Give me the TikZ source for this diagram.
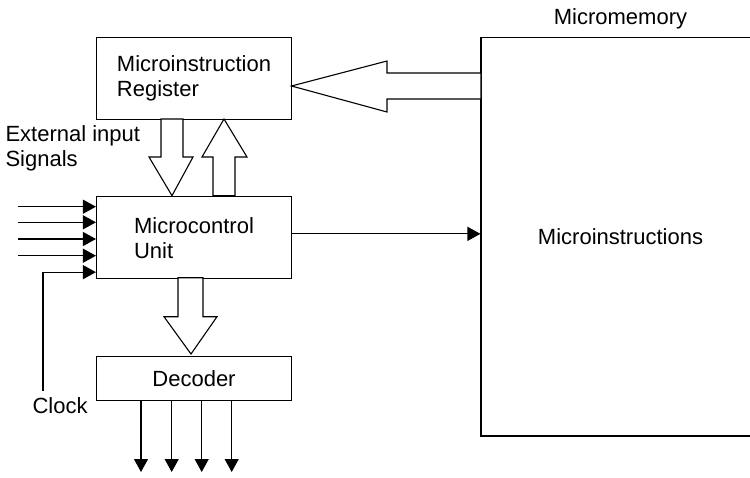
\documentclass[tikz,border=0pt]{standalone}
\usepackage{fontspec}
\setmainfont{Liberation Sans}
\usetikzlibrary{arrows.meta, positioning}

\begin{document}
\begin{tikzpicture}[
						x=1pt, y=-1pt,
						line width=1.1pt,
						every node/.style = {font=\fontsize{22}{25}\selectfont},
						block/.style = {draw, rectangle, minimum width=195pt, align=left},
						hollow/.style = {draw, fill=white, line join=miter},
						sig/.style = {-{Triangle[length=13pt, width=14pt]}}
					]
\useasboundingbox (0,0) rectangle (750,477);

\node[block, minimum height=81.3pt] (reg) at (194,78.4) {Microinstruction\\Register};
\node[block, minimum height=82pt] (mcu) [below=76.7pt of reg] {Microcontrol\\Unit};
\node[block, minimum height=44pt] (dec) [below=76.3pt of mcu] {Decoder};
\node[draw, rectangle, minimum width=279pt, minimum height=398.3pt] (mem) at (620.5,236.85) {Microinstructions};
\node[anchor=base, inner sep=0pt] (memlabel) at ([yshift=12.7pt]mem.north) {Micromemory};

\node[anchor=base west, inner sep=0pt, align=left] (ext) at (5,166.7) {External input\\Signals};
\node[anchor=base west, inner sep=0pt] (clock) at (32,413.3) {Clock};

% hollow arrows
\draw[hollow] (481,73) -- (387,73) -- (387,61) -- (291.5,86) -- (387,112) -- (387,99) -- (481,99) -- cycle;
\draw[hollow] (161,119) -- (161,157) -- (149,157) -- (172,195.7) -- (193,157) -- (183,157) -- (183,119) -- cycle;
\draw[hollow] (213,195.7) -- (213,157) -- (202,157) -- (224,119) -- (247,157) -- (235,157) -- (235,195.7) -- cycle;
\draw[hollow] (178,277.7) -- (178,316.7) -- (164,316.7) -- (191,354) -- (217,316.7) -- (203,316.7) -- (203,277.7) -- cycle;

% input signals
\foreach \i/\y in {1/206.7, 2/222.3, 3/239, 4/255.7}{
	\coordinate (in\i) at (18,\y);
	\draw[sig] (in\i) -- (in\i -| mcu.west);
}
\coordinate (clk) at (43,391);
\draw[sig] (clk) |- ([yshift=-34.3pt]mcu.west);

\draw[sig] ([yshift=4pt]mcu.east) -- ([yshift=4pt]mcu.east -| mem.west);

% decoder outputs
\foreach \i/\x in {1/141, 2/171.7, 3/201.7, 4/231.7}{
	\coordinate (out\i) at (\x,472);
	\draw[sig] (out\i |- dec.south) -- (out\i);
}
\end{tikzpicture}
\end{document}
